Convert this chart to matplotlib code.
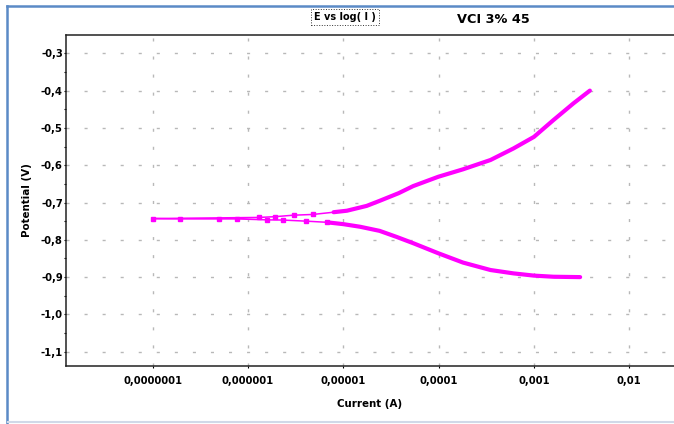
import numpy as np
import matplotlib.pyplot as plt
from matplotlib.lines import Line2D

# Polarisation scan: cathodic branch (high current -> Ecorr), then anodic branch
cath_current = [3.05e-3, 1.6e-3, 1.0e-3, 6.1e-4, 3.5e-4, 1.8e-4, 9.9e-5, 5.4e-5,
                3.6e-5, 2.4e-5, 1.5e-5, 1.0e-5, 6.7e-6, 4.1e-6, 2.3e-6, 1.6e-6,
                7.6e-7, 4.9e-7, 1.95e-7, 1.0e-7]
cath_potential = [-0.900, -0.899, -0.896, -0.890, -0.881, -0.861, -0.836, -0.809,
                  -0.792, -0.776, -0.765, -0.758, -0.753, -0.750, -0.747, -0.7465,
                  -0.744, -0.744, -0.744, -0.743]

anod_current = [1.3e-6, 1.9e-6, 3.0e-6, 4.8e-6, 7.9e-6, 1.09e-5, 1.76e-5, 2.43e-5,
                3.8e-5, 5.4e-5, 9.9e-5, 1.8e-4, 3.5e-4, 6.1e-4, 1.0e-3, 1.6e-3,
                2.6e-3, 3.86e-3]
anod_potential = [-0.740, -0.738, -0.734, -0.732, -0.726, -0.722, -0.709, -0.695,
                  -0.675, -0.656, -0.631, -0.611, -0.586, -0.555, -0.524, -0.479,
                  -0.434, -0.400]

x_ticks = [1e-7, 1e-6, 1e-5, 1e-4, 1e-3, 1e-2]
x_labels = ['0,0000001', '0,000001', '0,00001', '0,0001', '0,001', '0,01']
y_ticks = [-1.1, -1.0, -0.9, -0.8, -0.7, -0.6, -0.5, -0.4, -0.3]
y_labels = ['-1,1', '-1,0', '-0,9', '-0,8', '-0,7', '-0,6', '-0,5', '-0,4', '-0,3']

W, H = 674, 424
fig = plt.figure(figsize=(W / 100, H / 100), dpi=100)
ax = fig.add_axes([66 / W, (H - 366) / H, (700 - 66) / W, (366 - 35) / H])

current = np.array(cath_current + anod_current)
potential = np.array(cath_potential + anod_potential)
magenta = '#ff00ff'

# thin trace for the whole scan, dots near Ecorr, heavy trace where points are dense
ax.plot(current, potential, color=magenta, lw=1.1, zorder=3)
sparse = current < 7.5e-6
ax.plot(current[sparse], potential[sparse], ls='none', marker='s', ms=2.3,
        color=magenta, mec=magenta, zorder=3)
for cur, pot in ((cath_current, cath_potential), (anod_current, anod_potential)):
    cur = np.array(cur)
    pot = np.array(pot)
    dense = cur >= 6.5e-6
    ax.plot(cur[dense], pot[dense], color=magenta, lw=3.0, solid_capstyle='round',
            solid_joinstyle='round', zorder=4)

ax.set_xscale('log')
ax.set_xlim(10 ** -7.91, 10 ** -1.258)
ax.set_ylim(-1.1383, -0.2509)
ax.set_xticks(x_ticks)
ax.set_xticklabels(x_labels)
ax.xaxis.set_minor_locator(plt.NullLocator())
ax.set_yticks(y_ticks)
ax.set_yticklabels(y_labels)
ax.set_yticks(np.arange(-1.05, -0.26, 0.1), minor=True)

for lab in ax.get_xticklabels() + ax.get_yticklabels():
    lab.set_fontweight('bold')
    lab.set_fontsize(7.2)
ax.tick_params(axis='y', which='major', length=1.5, width=0.8, pad=0.8)
ax.tick_params(axis='y', which='minor', length=1.5, width=0.8)
ax.tick_params(axis='x', which='major', length=1.5, width=0.8, pad=6.0)

ax.grid(True, which='major', color='#b8b8b8', lw=1.0, ls=(0, (2.2, 10.8)))
for side in ('top', 'bottom', 'left', 'right'):
    ax.spines[side].set_linewidth(1.1)
    ax.spines[side].set_color('#222222')

fig.text(27 / W, 1 - 200 / H, 'Potential (V)', rotation=90, ha='center', va='center',
         fontsize=7.4, fontweight='bold')
fig.text(370 / W, 1 - 404 / H, 'Current (A)', ha='center', va='center',
         fontsize=7.4, fontweight='bold')
fig.text(344.7 / W, 1 - 16.7 / H, 'E vs log( I )', ha='center', va='center',
         fontsize=7, fontweight='bold',
         bbox=dict(boxstyle='square,pad=0.3', fc='none', ec='#333333', ls=':', lw=0.7))
fig.text(493.3 / W, 1 - 19.5 / H, 'VCI 3% 45', ha='center', va='center',
         fontsize=9.3, fontweight='bold')

# window frame around the chart
frame = '#5b8ac6'
fig.add_artist(Line2D([6.7 / W, 6.7 / W], [0, 1 - 6 / H], color=frame, lw=1.8,
                      transform=fig.transFigure))
fig.add_artist(Line2D([6.7 / W, 1], [1 - 6 / H, 1 - 6 / H], color=frame, lw=1.8,
                      transform=fig.transFigure))
fig.add_artist(Line2D([7.5 / W, 1], [1 - 421.5 / H, 1 - 421.5 / H], color='#d0d9e8', lw=1.5,
                      transform=fig.transFigure))

fig.savefig('out.png', dpi=100)
